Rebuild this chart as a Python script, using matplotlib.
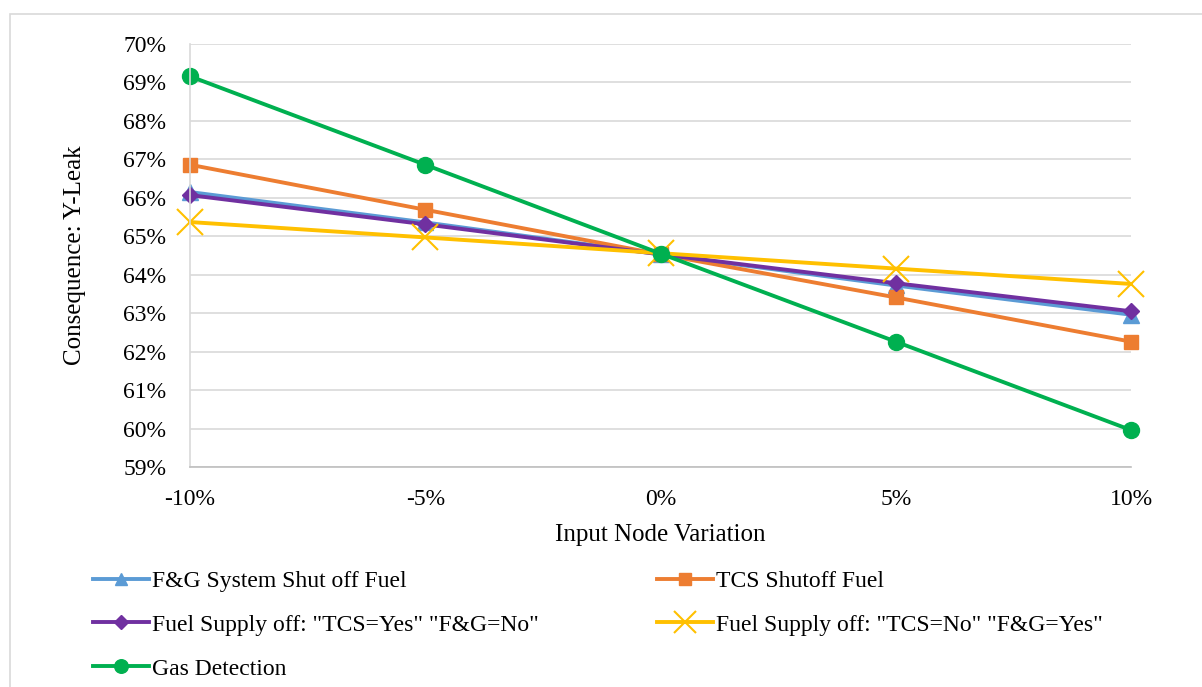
import matplotlib
matplotlib.use("Agg")
import matplotlib.pyplot as plt
from matplotlib.patches import Rectangle
from matplotlib.ticker import FuncFormatter

plt.rcParams['font.family'] = ['Liberation Serif', 'DejaVu Serif']

variation = ['-10%', '-5%', '0%', '5%', '10%']

fg_shutoff = [66.15, 65.36, 64.53, 63.72, 62.96]
tcs_shutoff = [66.86, 65.69, 64.53, 63.41, 62.26]
supply_tcs_yes = [66.07, 65.31, 64.53, 63.78, 63.05]
supply_tcs_no = [65.37, 64.97, 64.56, 64.16, 63.76]
gas_detection = [69.16, 66.86, 64.55, 62.26, 59.96]

labels = ['F&G System Shut off Fuel', 'TCS Shutoff Fuel',
          'Fuel Supply off: "TCS=Yes" "F&G=No"',
          'Fuel Supply off: "TCS=No" "F&G=Yes"', 'Gas Detection']

fig = plt.figure(figsize=(12.02, 6.87), dpi=100)
ax = fig.add_axes([190 / 1202, 1 - 467 / 687, (1131 - 190) / 1202, (467 - 44) / 687])

x = range(len(variation))
kw = dict(lw=2.8, clip_on=False)
h1, = ax.plot(x, fg_shutoff, color='#5B9BD5', marker='^', ms=11, **kw)
h2, = ax.plot(x, tcs_shutoff, color='#ED7D31', marker='s', ms=10.5, **kw)
h3, = ax.plot(x, supply_tcs_yes, color='#7030A0', marker='D', ms=8.5, **kw)
h4, = ax.plot(x, supply_tcs_no, color='#FFC000', marker='x', ms=19, mew=1.5, **kw)
h5, = ax.plot(x, gas_detection, color='#00B050', marker='o', ms=11.5, **kw)

ax.set_xlim(0, 4)
ax.set_ylim(59, 70)
ax.set_yticks(range(59, 71))
ax.yaxis.set_major_formatter(FuncFormatter(lambda v, p: f'{v:.0f}%'))
ax.set_xticks(list(x))
ax.set_xticklabels(variation)
ax.tick_params(length=0, labelsize=17, colors='black')
ax.tick_params(axis='y', pad=17)
ax.tick_params(axis='x', pad=16)

ax.grid(axis='y', color='#D9D9D9', lw=1.2)
ax.grid(axis='x', visible=False)
ax.set_axisbelow(True)
for s in ['top', 'right']:
    ax.spines[s].set_visible(False)
ax.spines['left'].set_color('#D9D9D9')
ax.spines['left'].set_linewidth(1.2)
ax.spines['bottom'].set_color('#BFBFBF')
ax.spines['bottom'].set_linewidth(1.2)

ax.set_xlabel('Input Node Variation', fontsize=18, labelpad=10)
ax.set_ylabel('Consequence: Y-Leak', fontsize=18, labelpad=27)

fig.legend([h1, h3, h5, h2, h4],
           [labels[0], labels[2], labels[4], labels[1], labels[3]],
           ncol=2, loc='upper left', bbox_to_anchor=(72 / 1202, 1 - 549 / 687),
           frameon=False, fontsize=17, handlelength=2.35, handletextpad=0.15,
           labelspacing=0.95, columnspacing=5.0, markerscale=0.85)

fig.patches.append(Rectangle((10 / 1202, -0.05), 1.1, 1.05 - 14 / 687,
                             transform=fig.transFigure, fill=False,
                             edgecolor='#D9D9D9', lw=1.2))

fig.savefig('out.png', dpi=100)
